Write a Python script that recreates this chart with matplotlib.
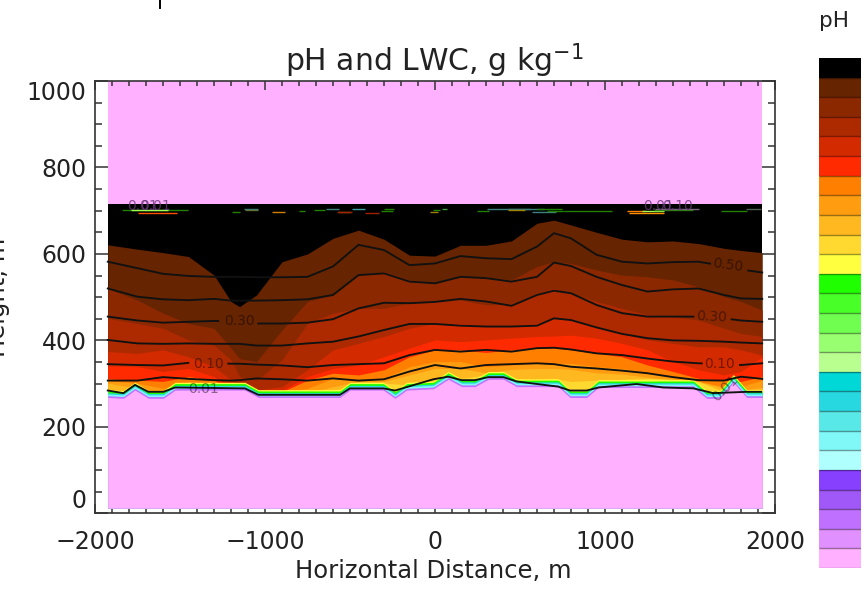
import numpy as np
import matplotlib
matplotlib.use("Agg")
import matplotlib.pyplot as plt
from matplotlib.ticker import MultipleLocator

# ---- data ----
stations = [-1925,-1750,-1600,-1450,-1300,-1200,-1150,-1050,-900,-750,-600,-450,-300,-150,0,
            150,300,450,600,700,800,950,1100,1250,1400,1550,1700,1800,1925]
ph_colors_top_down = ['#000000','#662400','#8c2800','#ad2a00','#d42a00','#ff2a00','#ff8000','#ff9c10',
    '#ffb820','#ffd830','#ffff40','#20ff00','#48ff28','#70ff50','#98ff70','#b8ff90','#00d8d8','#28d8e0',
    '#58e8e8','#80f8f8','#b0ffff','#8840ff','#a058f8','#c070ff','#e090ff','#ffb0ff']

black_bottom = [621,611,603,594,551,490,478,505,582,600,636,655,634,597,595,620,620,630,671,678,667,650,634,628,630,624,613,608,603]
brown_bottom = [520,493,463,439,428,382,358,351,424,490,505,551,559,540,532,547,547,540,571,582,578,563,551,547,540,524,501,490,470]
b3 = [451,439,428,401,389,355,316,308,355,439,463,474,474,486,490,493,482,484,509,520,509,490,474,459,455,447,428,416,409]
b4 = [374,370,378,362,339,308,293,285,293,332,378,393,409,428,439,439,432,432,439,453,447,432,416,401,393,385,385,378,366]
b5 = [341,339,328,335,316,289,284,284,284,316,335,343,362,382,401,397,401,405,409,410,412,405,393,378,351,332,320,328,362]
b6 = [311,308,305,316,308,284,281,281,281,308,324,320,332,362,378,378,372,378,382,382,378,370,362,343,328,312,308,305,316]
b7 = [307,301,289,305,293,281,278,278,278,289,312,308,312,339,351,351,339,343,347,347,347,339,335,324,316,305,293,293,308]
b8 = [301,289,278,299,287,278,274,274,274,278,293,305,305,320,335,335,325,333,335,335,333,325,322,315,308,305,289,285,291]
b9 = [285,278,274,293,281,274,270,270,270,274,285,297,301,297,305,312,320,312,308,312,305,308,310,312,310,305,281,278,285]
band_tops = [black_bottom, brown_bottom, b3, b4, b5, b6, b7, b8, b9]
band_colors = ['#662400','#8c2800','#ad2a00','#d42a00','#ff2a00','#ff8000','#ff9c10','#ffb820','#ffd830']

terrain_x = [-1925,-1833,-1765,-1686,-1598,-1529,-1118,-1039,-559,-500,-304,-235,-167,-10,78,157,235,314,402,480,725,794,892,961,1520,1598,1676,1755,1833,1925]
terrain_h = [268,266,285,266,266,285,285,268,268,285,285,266,285,288,310,293,293,310,310,293,293,268,268,291,291,266,266,303,268,268]
thin_top = [18,15,11,8,4]
thin_colors = ['#ffff40','#20ff00','#28d8e0','#80f8f8','#c070ff']

c50 = [582,567,554,549,547,547,547,546,546,547,571,621,609,574,578,595,590,588,617,648,636,598,582,578,581,582,572,564,557]
c40 = [520,501,495,493,496,492,492,492,493,495,505,551,555,536,532,547,544,536,547,580,572,547,528,513,518,520,505,497,496]
c30 = [455,446,441,443,445,444,444,439,439,441,449,474,487,486,489,496,490,480,505,515,509,482,463,455,455,455,451,446,443]
c20 = [401,393,392,393,392,392,392,388,388,393,397,409,424,438,438,434,432,432,434,451,447,430,415,405,400,399,397,395,393]
c10 = [345,343,342,348,348,346,346,344,342,338,343,345,347,366,378,374,378,374,382,383,379,370,366,358,351,347,345,343,347]
c05 = [307,307,315,311,308,307,308,312,310,307,312,307,310,328,343,335,343,345,347,345,339,335,330,324,315,308,307,316,311]
c01_x = [-1925,-1833,-1765,-1686,-1598,-1529,-1118,-1039,-559,-500,-304,-235,-10,78,157,235,314,402,480,725,794,892,961,1186,1343,1520,1637,1833,1918]
c01_h = [284,278,297,281,281,291,289,274,274,289,289,284,310,316,308,308,315,315,305,293,284,284,291,299,291,289,278,281,281]

contour_labels = ['0.30','0.10','0.01','0.50','0.30','0.10','0.01']
label_x = [-1153,-1335,-1359,1724,1629,1676,1706]
label_h = [445,345,287,574,454,346,288]
label_rot = [0,0,0,-8,-3,0,45]
gap_c30 = [(-1275,-1039),(1520,1745)]
gap_c10 = [(-1451,-1216),(1569,1794)]
gap_c50 = [(1618,1843)]
gap_c01 = [(-1529,-1206),(1637,1833)]

speck_x0 = [-1840,-1790,-1745,-1195,-1125,-1115,-960,-800,-710,-640,-570,-575,-490,-410,-320,-300,-10,
            -30,40,245,305,430,430,570,600,660,760,1130,1215,1140,1290,1295,1680,1830]
speck_x1 = [-1455,-1570,-1520,-1145,-1040,-1040,-885,-765,-645,-565,-500,-490,-410,-330,-245,-240,30,
            15,70,320,560,640,530,710,745,760,1040,1240,1345,1345,1520,1550,1835,1915]
speck_h = [702,702,694,698,705,702,696,700,702,705,698,696,704,694,700,705,702,698,704,700,705,703,701,698,705,700,700,700,700,694,702,705,700,703]
speck_c = ['#208000','#a0ff50','#ff5000','#208000','#408080','#607030','#d08000','#208000','#208000','#408080','#a08000','#a02000','#40a0a0','#a02000','#208000','#208000','#208000',
           '#a08000','#40a040','#208000','#408080','#408080','#a08000','#408080','#208000','#208000','#208000','#ff8000','#a0ff50','#ff9000','#208000','#7a6a80','#208000','#506050']

top_labels = ['0.01','0.01','0.01','0.10']
top_label_x = [-1723,-1647,1312,1429]
top_label_h = [712,712,712,710]

xticks_major = 1000
yticks_major = 200
# ---- drawing ----
plt.rcParams['font.family'] = 'DejaVu Sans'
W, H = 864, 590
fig = plt.figure(figsize=(W/100, H/100), dpi=100)
ax = fig.add_axes([95/W, 1-513.3/H, 680/W, 432.3/H])
ax.set_xlim(-2000, 2000)
ax.set_ylim(0, 1000)

pink = '#ffb0ff'
ax.fill_between(stations, 12, 1000, color=pink, lw=0, zorder=1)
ax.fill_between(stations, 12, 715, color='black', lw=0, zorder=1.1)
for i, (top, col) in enumerate(zip(band_tops, band_colors)):
    ax.fill_between(stations, 12, top, color=col, lw=0, zorder=2+i*0.01)
terrain = np.array(terrain_h, float)
for i, (t, col) in enumerate(zip(thin_top, thin_colors)):
    ax.fill_between(terrain_x, 12, terrain+t, color=col, lw=0, zorder=3+i*0.01)
ax.fill_between(terrain_x, 12, terrain, color=pink, lw=0, zorder=3.5)

# specks at the top of the cloud
for a, b, h, c in zip(speck_x0, speck_x1, speck_h, speck_c):
    ax.plot([a, b], [h, h], color=c, lw=1.0, zorder=4, solid_capstyle='butt')

def draw(x, y, gaps=()):
    x = np.asarray(x, float); y = np.asarray(y, float)
    edges = [e for g in gaps for e in g]
    xf = np.array(sorted(set(x.tolist()+edges)))
    yf = np.interp(xf, x, y)
    segs = np.ones(len(xf), bool)
    for a, b in gaps:
        segs &= ~((xf > a) & (xf < b))
    yf = np.where(segs, yf, np.nan)
    ax.plot(xf, yf, color='#111111', lw=1.35, zorder=5)

draw(stations, c50, gap_c50)
draw(stations, c40)
draw(stations, c30, gap_c30)
draw(stations, c20)
draw(stations, c10, gap_c10)
draw(stations, c05)
draw(c01_x, c01_h, gap_c01)

for s, x, h, r in zip(contour_labels, label_x, label_h, label_rot):
    ax.text(x, h, s, fontsize=10, color='black', alpha=0.45, ha='center', va='center',
            rotation=r, zorder=6)
for s, x, h in zip(top_labels, top_label_x, top_label_h):
    ax.text(x, h, s, fontsize=10, color='#6a3a7a', alpha=0.8, ha='center', va='center', zorder=6)

dark = '#333333'
for sp in ax.spines.values():
    sp.set_color(dark); sp.set_linewidth(1.2); sp.set_zorder(10)
ax.xaxis.set_major_locator(MultipleLocator(xticks_major))
ax.xaxis.set_minor_locator(MultipleLocator(100))
ax.yaxis.set_major_locator(MultipleLocator(yticks_major))
ax.yaxis.set_minor_locator(MultipleLocator(50))
ax.tick_params(axis='x', which='major', direction='in', top=True, length=6.5, width=1.1, color=dark,
               labelsize=17, pad=12, labelcolor='#222222')
ax.tick_params(axis='x', which='minor', direction='in', top=True, length=3.3, width=1.1, color=dark)
ax.tick_params(axis='y', which='major', direction='in', right=True, length=9.7, width=1.1, color=dark,
               labelsize=17, pad=6, labelcolor='#222222')
ax.tick_params(axis='y', which='minor', direction='in', right=True, length=5, width=1.1, color=dark)
for t in ax.get_xticklines()+ax.get_yticklines():
    t.set_zorder(11)
ax.set_axisbelow(False)
fig.canvas.draw()
ylabels = ax.get_yticklabels()
ylabels[1].set_va('bottom')
ylabels[-2].set_va('top')

fig.text(434/W, 1-71/H, 'pH and LWC, g kg$^{-1}$', fontsize=21.5, ha='center', va='baseline', color='#222222',
         math_fontfamily='dejavusans')
fig.text(433.5/W, 1-571/H, 'Horizontal Distance, m', fontsize=17.5, ha='center', va='center', color='#222222')
fig.text(-2/W, 1-297/H, 'Height, m', fontsize=17.5, rotation=90, ha='center', va='center', color='#222222')
fig.text(834/W, 1-21/H, 'pH', fontsize=15.5, ha='center', va='center', color='#222222')

# stray tick at the top of the page
fig.add_artist(plt.Line2D([160/W, 160/W], [1-8/H, 1], color='black', lw=1.4))

# colour bar
cax = fig.add_axes([819/W, 1-568/H, 42/W, 510/H])
n = len(ph_colors_top_down)
cax.barh(np.arange(n), np.ones(n), height=1, color=ph_colors_top_down[::-1], lw=0)
cax.hlines(np.arange(n)+0.5, 0, 1, color='black', alpha=0.4, lw=1)
cax.hlines([-0.5], 0, 1, color='black', alpha=0.3, lw=1)
cax.set_xlim(0, 1); cax.set_ylim(-0.5, n-0.5)
cax.axis('off')

fig.savefig('out.png', dpi=100)
